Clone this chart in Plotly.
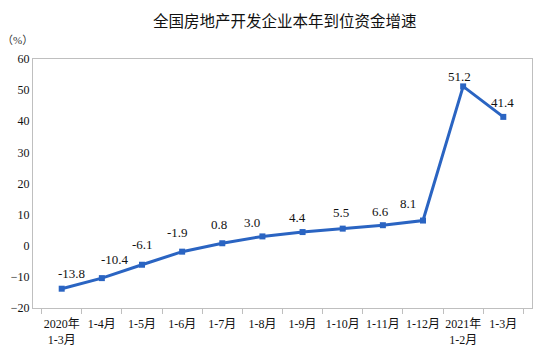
import plotly.graph_objects as go

categories = ["2020-1-3", "1-4", "1-5", "1-6", "1-7", "1-8", "1-9", "1-10", "1-11", "1-12", "2021-1-2", "1-3"]
tick_labels = ["2020年<br>1-3月", "1-4月", "1-5月", "1-6月", "1-7月", "1-8月", "1-9月",
               "1-10月", "1-11月", "1-12月", "2021年<br>1-2月", "1-3月"]
values = [-13.8, -10.4, -6.1, -1.9, 0.8, 3.0, 4.4, 5.5, 6.6, 8.1, 51.2, 41.4]
y_ticks = [-20, -10, 0, 10, 20, 30, 40, 50, 60]

# label offsets in pixels (x, y) relative to each point
label_offsets = [(10, 15), (13, 19), (1, 20), (-5, 19), (-3, 19), (-10, 14),
                 (-5, 15), (-2, 16), (-2, 14), (-15, 17), (-4, 10), (-1, 14)]

font_fam = "Liberation Serif, Times New Roman, Noto Sans CJK SC, serif"
blue = "#2a64c2"

fig = go.Figure(go.Scatter(
    x=categories, y=values,
    mode="lines+markers",
    line=dict(color=blue, width=3),
    marker=dict(symbol="square", size=6, color=blue),
    cliponaxis=False,
    hoverinfo="skip",
))

annotations = []
for c, v, (dx, dy) in zip(categories, values, label_offsets):
    annotations.append(dict(
        x=c, y=v, xref="x", yref="y", text=f"{v:.1f}", showarrow=False,
        xanchor="center", yanchor="middle", xshift=dx, yshift=dy,
        font=dict(family=font_fam, size=13, color="#111111"),
    ))
annotations.append(dict(text="（%）", x=-0.066, y=1.075, xref="paper", yref="paper",
                        xanchor="left", yanchor="middle", showarrow=False,
                        font=dict(family=font_fam, size=11, color="#333333")))

fig.update_layout(
    width=553, height=360,
    margin=dict(l=33, r=21, t=59, b=52),
    paper_bgcolor="white", plot_bgcolor="white",
    showlegend=False,
    title=dict(text="全国房地产开发企业本年到位资金增速", x=0.515, xanchor="center",
               y=0.94, yanchor="middle", yref="container",
               font=dict(family="Noto Sans CJK SC", size=15.5, color="#111111")),
    annotations=annotations,
)

fig.update_xaxes(
    type="category",
    tickvals=categories, ticktext=tick_labels, tickangle=0,
    tickfont=dict(family=font_fam, size=12, color="#111111"),
    showline=True, linecolor="#bfbfbf", linewidth=1, mirror=True,
    ticks="outside", tickson="boundaries", ticklen=5, tickcolor="#bfbfbf",
    ticklabelstandoff=5,
    showgrid=False, automargin=False,
)
fig.update_yaxes(
    range=[-20, 60], tickvals=y_ticks,
    tickfont=dict(family=font_fam, size=12, color="#111111"),
    showline=True, linecolor="#bfbfbf", linewidth=1, mirror=True,
    showgrid=False, zeroline=False, ticks="", automargin=False,
)

fig.write_html("out.html", config={"displayModeBar": False},
               post_script="document.body.style.margin='0';document.body.style.overflow='hidden';")
